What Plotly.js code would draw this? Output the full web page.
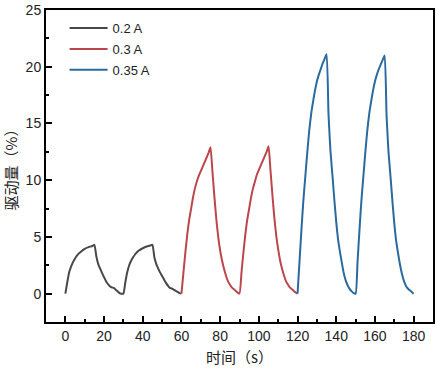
<!DOCTYPE html>
<html>
<head>
<meta charset="utf-8">
<script src="https://cdn.plot.ly/plotly-3.0.1.min.js"></script>
<style>
html,body{margin:0;padding:0;background:#fff;}
#chart{width:437px;height:368px;}
</style>
</head>
<body>
<div id="chart"></div>
<script>
// 0.2 A (0–60 s)
var t02 = [0,1,2,3,4,5,6,7,8,10,12,14,15,16,17,18,19,20,21,22,23,24,25,26,27,28,29,30,
           31,32,33,34,35,36,37,38,40,42,44,45,46,47,48,49,50,51,52,53,54,55,56,57,58,59,60];
var y02 = [0,1.0,1.9,2.4,2.8,3.1,3.35,3.55,3.7,3.95,4.1,4.2,4.3,3.3,2.6,2.2,1.8,1.45,1.1,0.85,0.65,0.55,0.5,0.35,0.2,0.05,0,0,
           1.0,1.9,2.5,2.9,3.2,3.45,3.65,3.8,4.0,4.15,4.25,4.3,3.2,2.6,2.2,1.85,1.55,1.25,0.95,0.7,0.5,0.45,0.35,0.25,0.15,0.05,0];
// 0.3 A (60–120 s)
var t03 = [60,61,62,63,64,65,66,67,68,69,70,71,72,73,74,75,76,77,78,79,80,81,82,83,84,85,86,87,88,89,90,
           91,92,93,94,95,96,97,98,99,100,101,102,103,104,105,106,107,108,109,110,111,112,113,114,115,116,117,118,119,120];
var y03 = [0,1.8,3.6,5.2,6.5,7.5,8.5,9.3,9.9,10.4,10.8,11.2,11.6,12.0,12.4,12.9,10.8,8.6,6.6,5.0,3.8,2.9,2.2,1.6,1.1,0.8,0.55,0.4,0.25,0.1,0,
           1.8,3.6,5.2,6.5,7.5,8.5,9.3,9.9,10.5,10.9,11.3,11.7,12.1,12.5,13.0,10.9,8.7,6.7,5.1,3.9,2.9,2.2,1.6,1.1,0.8,0.55,0.4,0.25,0.1,0];
// 0.35 A (120–180 s)
var t035 = [120,121,122,123,124,125,126,127,128,129,130,131,132,133,134,135,136,137,138,139,140,141,142,143,144,145,146,147,148,149,150,
            151,152,153,154,155,156,157,158,159,160,161,162,163,164,165,166,167,168,169,170,171,172,173,174,175,176,177,178,179,180];
var y035 = [0,2.8,5.6,8.2,10.3,12.4,14.3,15.8,16.9,17.9,18.7,19.3,19.8,20.3,20.7,21.1,15.8,12.6,10.5,8.3,6.3,4.7,3.6,2.6,1.7,1.1,0.7,0.4,0.2,0.05,0,
            2.8,5.6,8.2,10.3,12.4,14.3,15.8,16.9,17.9,18.7,19.3,19.8,20.2,20.6,21.0,15.7,12.5,10.4,8.2,6.2,4.6,3.5,2.5,1.7,1.1,0.7,0.45,0.3,0.15,0];

var names = ['0.2 A','0.3 A','0.35 A'];
var colors = ['#484848','#bb474c','#2b6a9f'];
var xTicks = [0,20,40,60,80,100,120,140,160,180];
var yTicks = [0,5,10,15,20,25];

var xs = [t02,t03,t035], ys = [y02,y03,y035];
var data = xs.map(function(x,i){
  return {x:x, y:ys[i], type:'scatter', mode:'lines', name:names[i], legendgroup:'g'+i,
          line:{color:colors[i], width:2, shape:'spline', smoothing:0.5}};
});

var font = 'Liberation Sans, Arial, sans-serif';
var axisCommon = {
  showline:true, linecolor:'#000', linewidth:2, mirror:true,
  ticks:'inside', ticklen:6, tickwidth:2, tickcolor:'#000',
  showgrid:false, zeroline:false,
  tickfont:{family:font, size:14, color:'#222'}
};

var layout = {
  width:437, height:368,
  margin:{l:46, r:4, t:10, b:46},
  paper_bgcolor:'#fff', plot_bgcolor:'#fff',
  showlegend:true,
  legend:{x:0.048, y:0.99, xanchor:'left', yanchor:'top', bgcolor:'rgba(0,0,0,0)',
          font:{family:font, size:13, color:'#222'}, itemwidth:38, tracegroupgap:1},
  xaxis:Object.assign({}, axisCommon, {
    range:[-10,190], tickvals:xTicks, ticktext:xTicks.map(String),
    minor:{ticks:'inside', ticklen:3, tickwidth:2, tickcolor:'#000', dtick:10, tick0:0},
    title:{text:'时间（s）', font:{family:'Noto Sans CJK SC, sans-serif', size:15, color:'#222'}, standoff:10}
  }),
  yaxis:Object.assign({}, axisCommon, {
    range:[-2.5,25], tickvals:yTicks, ticktext:yTicks.map(String),
    minor:{ticks:'inside', ticklen:3, tickwidth:2, tickcolor:'#000', dtick:2.5, tick0:0},
    title:{text:'驱动量（%）', font:{family:'Noto Sans CJK SC, sans-serif', size:15, color:'#222'}, standoff:12}
  })
};

Plotly.newPlot('chart', data, layout, {displayModeBar:false, staticPlot:true});
</script>
</body>
</html>
